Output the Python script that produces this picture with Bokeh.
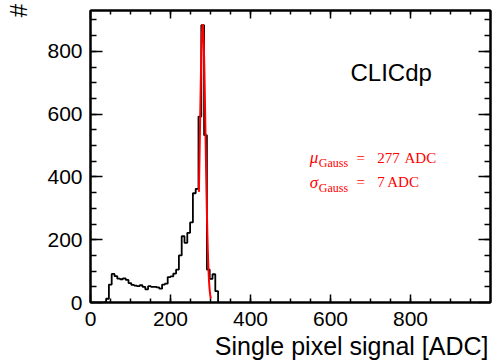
import numpy as np
from bokeh.plotting import figure
from bokeh.models import (Range1d, LinearAxis, FixedTicker, Label, ColumnDataSource,
                          CustomJSTickFormatter, Title)
from bokeh.embed import file_html
from bokeh.resources import INLINE

# ---- data ----
bin_width = 7.0
first_edge = 39.0
counts = [12, 57, 91, 84, 76, 74, 77, 72, 62, 56,
          54, 52, 55, 50, 42, 52, 50, 50, 48, 44,
          57, 60, 81, 83, 92, 105, 150, 211, 190, 222,
          255, 348, 362, 592, 883, 533, 105, 75, 90, 36]
gauss_mean_plot = 280.5
gauss_sigma = 7.0
gauss_amp = 885.0
fit_lo, fit_hi = 271.0, 301.0
x_ticks = [0, 200, 400, 600, 800]
x_minor = list(range(50, 1000, 50))
y_ticks = [0, 200, 400, 600, 800]
y_minor = list(range(50, 950, 50))
mu_text = "277"
sigma_text = "7"

edges = first_edge + bin_width * np.arange(len(counts) + 1)
xs = np.concatenate([[edges[0] - bin_width], edges])
ys = np.concatenate([[0], counts, [0]])

p = figure(width=494, height=361, output_backend="svg", toolbar_location=None,
           x_range=Range1d(0, 1000), y_range=Range1d(0, 930),
           min_border_left=90, min_border_right=4, min_border_top=10, min_border_bottom=10,
           x_axis_type=None, y_axis_type=None)
p.grid.visible = False
p.outline_line_color = "black"
p.outline_line_width = 2
p.background_fill_color = "white"
p.border_fill_color = "white"

def make_axis(ticks, minor, major_len, minor_len, show_labels):
    ax = LinearAxis(ticker=FixedTicker(ticks=ticks, minor_ticks=minor))
    ax.axis_line_color = "black"
    ax.axis_line_width = 2
    ax.major_tick_in = major_len
    ax.major_tick_out = 0
    ax.minor_tick_in = minor_len
    ax.minor_tick_out = 0
    ax.major_tick_line_width = 1.5
    ax.minor_tick_line_width = 1.5
    ax.major_tick_line_color = "black"
    ax.minor_tick_line_color = "black"
    if show_labels:
        ax.major_label_text_font = "Liberation Sans"
        ax.major_label_text_font_size = "21px"
        ax.major_label_text_color = "black"
        ax.major_label_standoff = 9
    else:
        ax.formatter = CustomJSTickFormatter(code="return ''")
        ax.major_label_standoff = 0
    return ax

xb = make_axis(x_ticks, x_minor, 8, 4, True)
yl = make_axis(y_ticks, y_minor, 12, 6, True)
yl.major_label_standoff = 8
xt = make_axis(x_ticks, x_minor, 8, 4, False)
yr = make_axis(y_ticks, y_minor, 12, 6, False)

yl.axis_label = "#"
yl.axis_label_align = "end"
yl.axis_label_text_font = "Liberation Sans"
yl.axis_label_text_font_size = "24px"
yl.axis_label_text_font_style = "normal"
yl.axis_label_text_color = "black"
yl.axis_label_standoff = 12

p.add_layout(xb, "below")
p.add_layout(yl, "left")
p.add_layout(xt, "above")
p.add_layout(yr, "right")

xtitle = Title(text="Single pixel signal [ADC]", align="right",
               text_font="Liberation Sans", text_font_size="25px",
               text_font_style="normal", text_color="black",
               standoff=3, offset=2)
p.add_layout(xtitle, "below")

src = ColumnDataSource(dict(x=xs, y=ys))
p.step("x", "y", source=src, mode="after", line_color="black", line_width=1.8)

gx = np.linspace(fit_lo, fit_hi, 200)
gy = gauss_amp * np.exp(-0.5 * ((gx - gauss_mean_plot) / gauss_sigma) ** 2)
p.line(gx, gy, line_color="red", line_width=2)

def lab(x, y, text, size, font="Liberation Sans", style="normal", color="black",
        align="left", baseline="alphabetic"):
    p.add_layout(Label(x=x, y=y, text=text, text_font=font, text_font_size=size,
                       text_font_style=style, text_color=color, text_align=align,
                       text_baseline=baseline))

# CLICdp
lab(650, 733, "CLICdp", "24px")
# fit results
serif = "Liberation Serif"
red = "#ff0000"
dy = 14
lab(548, 446.7 + dy, "\u03bc", "17px", font=serif, style="italic", color=red)
lab(570.8, 430.8 + dy, "Gauss", "12px", font=serif, color=red)
lab(665, 446.7 + dy, "=", "15px", font=serif, color=red)
lab(716.8, 446.7 + dy, mu_text, "15px", font=serif, color=red)
lab(785, 446.7 + dy, "ADC", "15px", font=serif, color=red)
lab(548, 369.2 + dy, "\u03c3", "17px", font=serif, style="italic", color=red)
lab(570.8, 351.4 + dy, "Gauss", "12px", font=serif, color=red)
lab(665, 369.2 + dy, "=", "15px", font=serif, color=red)
lab(716.8, 369.2 + dy, sigma_text, "15px", font=serif, color=red)
lab(741.8, 369.2 + dy, "ADC", "15px", font=serif, color=red)

open("out.html", "w").write(file_html(p, INLINE))
